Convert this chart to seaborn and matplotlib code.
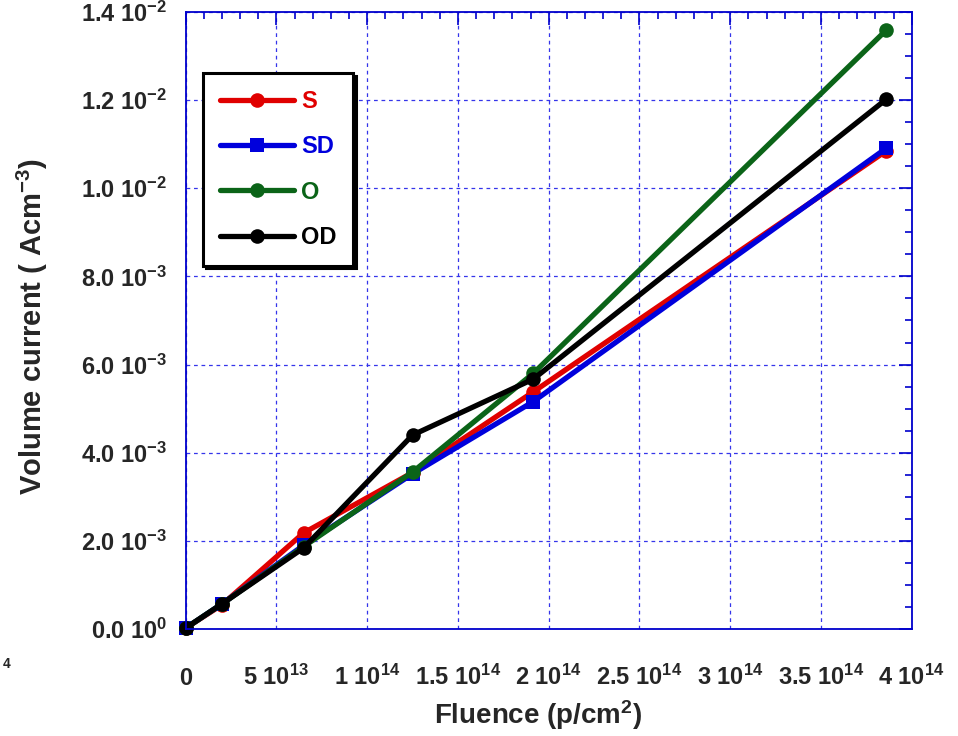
import matplotlib
matplotlib.use("Agg")
import matplotlib.pyplot as plt
from matplotlib.lines import Line2D
from matplotlib.ticker import AutoMinorLocator
import pandas as pd
import seaborn as sns

# Fluence steps (p/cm^2) shared by all samples
fluence = [0.0, 2.0e13, 6.5e13, 1.25e14, 1.915e14, 3.86e14]

# Volume current (A cm^-3) for each sample
current_S = [0.00002, 0.00055, 0.00218, 0.00355, 0.00538, 0.01085]
current_SD = [0.00002, 0.00057, 0.00190, 0.00352, 0.00516, 0.01091]
current_O = [0.00002, 0.00057, 0.00187, 0.00356, 0.00580, 0.01359]
current_OD = [0.00002, 0.00057, 0.00184, 0.00440, 0.00567, 0.01202]

series_names = ["S", "SD", "O", "OD"]
series_values = [current_S, current_SD, current_O, current_OD]
series_colors = {"S": "#e00000", "SD": "#0000dc", "O": "#0b6418", "OD": "#000000"}
series_markers = {"S": "o", "SD": "s", "O": "o", "OD": "o"}

x_ticks = [0, 5e13, 1e14, 1.5e14, 2e14, 2.5e14, 3e14, 3.5e14, 4e14]
x_tick_labels = ["0", "5 $10^{13}$", "1 $10^{14}$", "1.5 $10^{14}$", "2 $10^{14}$",
                 "2.5 $10^{14}$", "3 $10^{14}$", "3.5 $10^{14}$", "4 $10^{14}$"]
y_ticks = [0, 0.002, 0.004, 0.006, 0.008, 0.010, 0.012, 0.014]
y_tick_labels = ["0.0 $10^{0}$", "2.0 $10^{-3}$", "4.0 $10^{-3}$", "6.0 $10^{-3}$",
                 "8.0 $10^{-3}$", "1.0 $10^{-2}$", "1.2 $10^{-2}$", "1.4 $10^{-2}$"]

AXIS_BLUE = "#0000cc"
GRID_BLUE = "#3535ea"
LINE_W = 3.8
MARKER_SIZE = 10.5

sns.set_style("white")
plt.rcParams.update({
    "font.family": ["Liberation Sans", "DejaVu Sans"],
    "font.weight": "bold",
    "axes.labelweight": "bold",
    "mathtext.fontset": "custom",
    "mathtext.rm": "Liberation Sans:bold",
    "mathtext.it": "Liberation Sans:bold",
    "mathtext.bf": "Liberation Sans:bold",
    "mathtext.default": "regular",
})

df = pd.DataFrame({
    "fluence": fluence * len(series_names),
    "current": [v for vals in series_values for v in vals],
    "sample": [name for name in series_names for _ in fluence],
})

fig, ax = plt.subplots(figsize=(9.58, 7.36), dpi=100)
fig.subplots_adjust(left=0.1938, right=0.9517, bottom=0.1454, top=0.9837)

sns.lineplot(
    data=df, x="fluence", y="current",
    hue="sample", style="sample",
    hue_order=series_names, style_order=series_names,
    palette=series_colors, markers=series_markers, dashes=False,
    linewidth=LINE_W, markersize=MARKER_SIZE, markeredgewidth=0,
    errorbar=None, legend=False, clip_on=False, ax=ax,
)

ax.set_xlim(0, 4e14)
ax.set_ylim(0, 0.014)

ax.set_xticks(x_ticks, x_tick_labels)
ax.set_yticks(y_ticks, y_tick_labels)
ax.xaxis.set_minor_locator(AutoMinorLocator(5))
ax.yaxis.set_minor_locator(AutoMinorLocator(4))
ax.tick_params(which="both", direction="in", top=True, right=True,
               color=AXIS_BLUE, width=1.2)
ax.tick_params(which="major", length=9.5)
ax.tick_params(which="minor", length=5)
ax.tick_params(axis="y", which="major", labelsize=17, pad=13)
ax.tick_params(axis="x", which="major", labelsize=17, pad=40)
for lab in ax.get_xticklabels():
    lab.set_va("baseline")

ax.grid(True, which="major", color=GRID_BLUE, linestyle=(0, (3, 3)), linewidth=0.9)
for spine in ax.spines.values():
    spine.set_color(AXIS_BLUE)
    spine.set_linewidth(1.3)

ax.set_xlabel("Fluence (p/cm$^{2}$)", fontsize=20, fontweight="bold")
ax.set_ylabel("Volume current ( Acm$^{-3}$)", fontsize=21, fontweight="bold")
ax.xaxis.label.set_va("baseline")
ax.yaxis.label.set_va("baseline")
ax.xaxis.set_label_coords(0.486, -0.1532)
ax.yaxis.set_label_coords(-0.1983, 0.49)

handles = [
    Line2D([], [], color=series_colors[n], marker=series_markers[n],
           linewidth=LINE_W, markersize=MARKER_SIZE, markeredgewidth=0)
    for n in series_names
]
leg = ax.legend(
    handles, series_names,
    loc="upper left", bbox_to_anchor=(0.0242, 0.9006), borderaxespad=0,
    frameon=True, fancybox=False, framealpha=1, edgecolor="black",
    shadow={"facecolor": "black", "edgecolor": "black", "alpha": 1.0},
    fontsize=17, handlelength=3.15, handletextpad=0.3, labelspacing=0.95,
    borderpad=0.7, numpoints=1, labelcolor="linecolor",
)
leg.get_frame().set_linewidth(2.2)

fig.text(7 / 958, 1 - 668 / 736, "4", fontsize=10, ha="center", va="baseline")

fig.savefig("out.png", dpi=100, facecolor="white")
